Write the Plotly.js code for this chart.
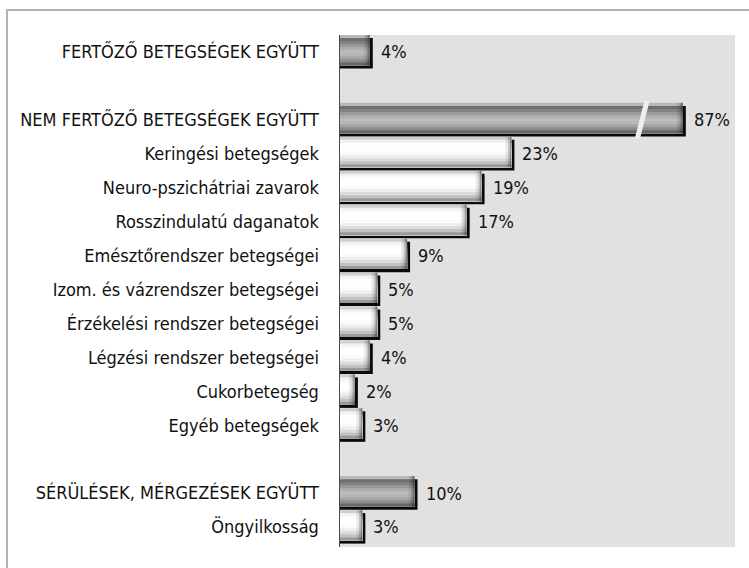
<!DOCTYPE html>
<html>
<head>
<meta charset="utf-8">
<script src="https://cdn.plot.ly/plotly-3.0.1.min.js"></script>
<style>
  html, body { margin: 0; padding: 0; background: #ffffff; }
  #frame { position: absolute; left: 6px; top: 9px; width: 743px; height: 559px;
           border-top: 2px solid #b4b4b4; border-left: 2px solid #b4b4b4; box-sizing: border-box; }
  #chart { position: absolute; left: 0; top: 0; width: 749px; height: 568px; }
</style>
</head>
<body>
<div id="frame"></div>
<div id="chart"></div>
<script>
// ---- data ----
const categories = [
  "FERTŐZŐ BETEGSÉGEK EGYÜTT",
  " ",
  "NEM FERTŐZŐ BETEGSÉGEK EGYÜTT",
  "Keringési betegségek",
  "Neuro-pszichátriai zavarok",
  "Rosszindulatú daganatok",
  "Emésztőrendszer betegségei",
  "Izom. és vázrendszer betegségei",
  "Érzékelési rendszer betegségei",
  "Légzési rendszer betegségei",
  "Cukorbetegség",
  "Egyéb betegségek",
  "  ",
  "SÉRÜLÉSEK, MÉRGEZÉSEK EGYÜTT",
  "Öngyilkosság"
];
const values = [4, null, 87, 23, 19, 17, 9, 5, 5, 4, 2, 3, null, 10, 3];
const isTotal = [true, false, true, false, false, false, false, false, false, false, false, false, false, true, false];
const valueLabels = values.map(v => v === null ? "" : v + "%");

// ---- axis break (87% bar is shortened) ----
const BREAK_FROM = 40, BREAK_TO = 81;
const toDisplay = v => v === null ? null : (v > BREAK_FROM ? v - (BREAK_TO - BREAK_FROM) : v);
const disp = values.map(toDisplay);

// ---- styles ----
const FONT = "'Liberation Sans Narrow', 'DejaVu Sans Condensed', 'Arial Narrow', sans-serif";
const grayBands  = ["#b8b8b8","#6e6e6e","#838383","#9a9a9a","#aeaeae","#bcbcbc","#b6b6b6","#a4a4a4","#8c8c8c","#686868"];
const whiteBands = ["#d0d0d0","#f2f2f2","#fdfdfd","#ffffff","#ffffff","#fafafa","#eeeeee","#dcdcdc","#c2c2c2","#9a9a9a"];
const BAR_TOP = -0.5, BAR_W = 0.9, SHADOW_DY = 0.09, SHADOW_DX = 0.4;

const traces = [];
// shadow
traces.push({
  type: "bar", orientation: "h", y: categories,
  x: disp.map(d => d === null ? null : d + SHADOW_DX),
  offset: BAR_TOP + SHADOW_DY, width: BAR_W,
  marker: { color: "#0a0a0a", line: { width: 0 } },
  hoverinfo: "skip", showlegend: false
});
// gradient bands (each band reaches the bar bottom, later bands cover earlier ones)
const nb = grayBands.length, bw = BAR_W / nb;
for (let i = 0; i < nb; i++) {
  traces.push({
    type: "bar", orientation: "h", y: categories, x: disp,
    offset: BAR_TOP + i * bw, width: BAR_W - i * bw,
    marker: { color: isTotal.map(t => t ? grayBands[i] : whiteBands[i]), line: { width: 0 } },
    hoverinfo: "skip", showlegend: false
  });
}
// darker right end caps
[[0.8, 0.08], [0.45, 0.16], [0.2, 0.26]].forEach(([len, a]) => {
  traces.push({
    type: "bar", orientation: "h", y: categories,
    x: disp.map(d => d === null ? null : len),
    base: disp.map(d => d === null ? null : d - len),
    offset: BAR_TOP, width: BAR_W,
    marker: { color: "rgba(0,0,0," + a + ")", line: { width: 0 } },
    hoverinfo: "skip", showlegend: false
  });
});

// value labels
const annotations = [];
categories.forEach((c, i) => {
  if (values[i] === null) return;
  annotations.push({
    x: disp[i] + SHADOW_DX, y: c, xref: "x", yref: "y",
    text: valueLabels[i], showarrow: false, xanchor: "left", yanchor: "middle",
    xshift: 6, yshift: 0,
    font: { family: FONT, size: 18, color: "#111111" }
  });
});

// break mark on the shortened bar
const shapes = [];
categories.forEach((c, i) => {
  if (values[i] !== null && values[i] > BREAK_FROM) {
    const y0 = i + 0.56, y1 = i - 0.56;
    shapes.push({
      type: "path", xref: "x", yref: "y", layer: "above",
      path: "M " + (BREAK_FROM - 0.45) + "," + y0 + " L " + (BREAK_FROM + 0.25) + "," + y0 +
            " L " + (BREAK_FROM + 1.55) + "," + y1 + " L " + (BREAK_FROM + 0.85) + "," + y1 + " Z",
      fillcolor: "#eeeeee", line: { width: 0 }
    });
  }
});

const layout = {
  width: 749, height: 568,
  margin: { l: 340, r: 14, t: 35, b: 21 },
  paper_bgcolor: "rgba(0,0,0,0)",
  plot_bgcolor: "#e1e1e1",
  barmode: "overlay",
  showlegend: false,
  font: { family: FONT, size: 18, color: "#111111" },
  xaxis: { range: [0, 53], showgrid: false, zeroline: false, showticklabels: false, ticks: "", showline: false, fixedrange: true },
  yaxis: {
    type: "category", categoryorder: "array", categoryarray: categories,
    range: [14.59, -0.5], showgrid: false, zeroline: false,
    showline: true, linecolor: "#4a4a4a", linewidth: 1.5,
    ticks: "", ticklabelstandoff: 16,
    tickfont: { family: FONT, size: 18, color: "#111111" },
    fixedrange: true
  },
  annotations: annotations,
  shapes: shapes
};

Plotly.newPlot("chart", traces, layout, { staticPlot: true, displayModeBar: false });
</script>
</body>
</html>
